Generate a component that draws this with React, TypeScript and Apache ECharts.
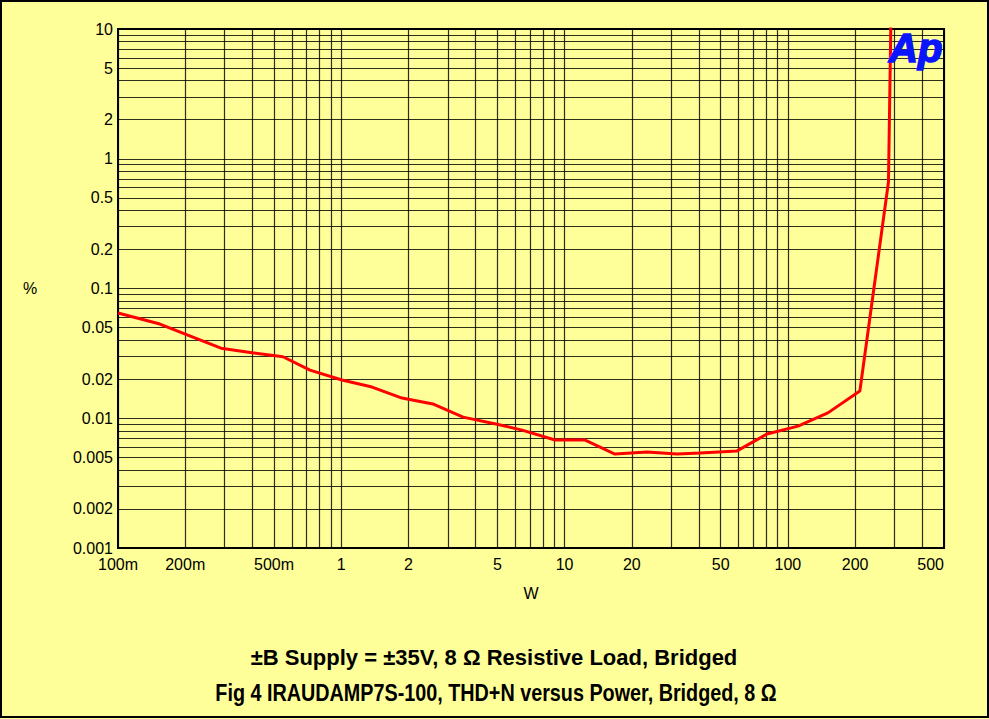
import React, { useEffect, useRef } from "react";
import * as echarts from "echarts";

const powerW = [0.1, 0.154, 0.289, 0.398, 0.548, 0.724, 1.007, 1.373, 1.87, 2.57, 3.51, 4.98, 6.45, 9.06, 12.3, 16.8, 23.4, 31.9, 40.4, 59.2, 80.6, 111, 151, 210, 282, 293];
const thdPct = [0.0647, 0.0532, 0.0347, 0.032, 0.0298, 0.0235, 0.0197, 0.0174, 0.0143, 0.0129, 0.0102, 0.009, 0.0081, 0.0068, 0.0068, 0.0053, 0.0055, 0.0053, 0.0054, 0.0056, 0.00756, 0.0087, 0.011, 0.0162, 0.662, 50];

// Axis tick labels
const xLabelValues = [0.1, 0.2, 0.5, 1, 2, 5, 10, 20, 50, 100, 200, 500];
const yLabelValues = [0.001, 0.002, 0.005, 0.01, 0.02, 0.05, 0.1, 0.2, 0.5, 1, 2, 5, 10];

// Grid line positions
const xGridValues = [0.1, 0.2, 0.3, 0.4, 0.5, 0.6, 0.7, 0.8, 0.9, 1, 2, 3, 4, 5, 6, 7, 8, 9, 10, 20, 30, 40, 50, 60, 70, 80, 90, 100, 200, 300, 400, 500];
const yGridValues = [0.001, 0.002, 0.003, 0.004, 0.005, 0.006, 0.007, 0.008, 0.009, 0.01, 0.02, 0.03, 0.04, 0.05, 0.06, 0.07, 0.08, 0.09, 0.1, 0.2, 0.3, 0.4, 0.5, 0.6, 0.7, 0.8, 0.9, 1, 2, 3, 4, 5, 6, 7, 8, 9, 10];

const subtitleText = "±B Supply = ±35V, 8 Ω Resistive Load, Bridged";
const titleText = "Fig 4 IRAUDAMP7S-100, THD+N versus Power, Bridged, 8 Ω";

const FONT = 'Arial, "Liberation Sans", sans-serif';

export default function App() {
  const ref = useRef<HTMLDivElement>(null);
  useEffect(() => {
    if (!ref.current) return;
    const chart = echarts.init(ref.current, null, { renderer: "svg" });
    const data = powerW.map((p, i) => [p, thdPct[i]]);
    chart.setOption({
      animation: false,
      backgroundColor: "#FFFF99",
      grid: {
        left: 118,
        top: 29,
        right: 45,
        bottom: 171,
        show: true,
        borderColor: "#000",
        borderWidth: 2,
        backgroundColor: "transparent",
      },
      xAxis: {
        type: "log",
        min: 0.1,
        max: 500,
        name: "W",
        nameLocation: "middle",
        nameGap: 37,
        nameTextStyle: { fontFamily: FONT, fontSize: 16, color: "#000" },
        axisLine: { show: true, lineStyle: { color: "#000", width: 2 } },
        axisTick: { show: false, customValues: xGridValues },
        axisLabel: {
          customValues: xLabelValues,
          fontFamily: FONT,
          fontSize: 16,
          color: "#000",
          margin: 8,
          alignMaxLabel: "right",
          formatter: (v: number) => (v < 1 ? Math.round(v * 1000) + "m" : String(v)),
        },
        splitLine: { show: true, lineStyle: { color: "rgba(0,0,0,0.82)", width: 1.2 } },
        minorSplitLine: { show: false },
      },
      yAxis: {
        type: "log",
        min: 0.001,
        max: 10,
        axisLine: { show: true, lineStyle: { color: "#000", width: 2 } },
        axisTick: { show: false, customValues: yGridValues },
        axisLabel: {
          customValues: yLabelValues,
          fontFamily: FONT,
          fontSize: 16,
          color: "#000",
          margin: 5,
          formatter: (v: number) => String(v),
        },
        splitLine: { show: true, lineStyle: { color: "rgba(0,0,0,0.82)", width: 1.2 } },
      },
      series: [
        {
          type: "line",
          data,
          symbol: "none",
          clip: true,
          lineStyle: { color: "#FF0000", width: 3 },
          z: 5,
        },
      ],
      graphic: [
        {
          type: "rect",
          shape: { x: 1, y: 1, width: 987, height: 716 },
          style: { fill: "none", stroke: "#000", lineWidth: 2 },
          silent: true,
          z: 100,
        },
        {
          type: "text",
          x: 30,
          y: 288,
          style: { text: "%", fontFamily: FONT, fontSize: 16, fill: "#000", textAlign: "center", textVerticalAlign: "middle" },
        },
        {
          type: "text",
          x: 889,
          y: 48,
          style: {
            text: "Ap",
            fontFamily: FONT,
            fontSize: 40,
            fontWeight: "bold",
            fontStyle: "italic",
            fill: "#0A14FF",
            stroke: "#0A14FF",
            lineWidth: 1.6,
            textAlign: "left",
            textVerticalAlign: "middle",
          },
          z: 50,
        },
        {
          type: "text",
          x: 494,
          y: 657,
          style: { text: subtitleText, fontFamily: FONT, fontSize: 22, fontWeight: "bold", fill: "#000", textAlign: "center", textVerticalAlign: "middle" },
        },
        {
          type: "text",
          x: 496,
          y: 693,
          scaleX: 0.86,
          style: { text: titleText, fontFamily: FONT, fontSize: 23, fontWeight: "bold", fill: "#000", textAlign: "center", textVerticalAlign: "middle" },
        },
      ],
    });
    return () => chart.dispose();
  }, []);
  return <div ref={ref} style={{ position: "fixed", left: 0, top: 0, width: 989, height: 719 }} />;
}
